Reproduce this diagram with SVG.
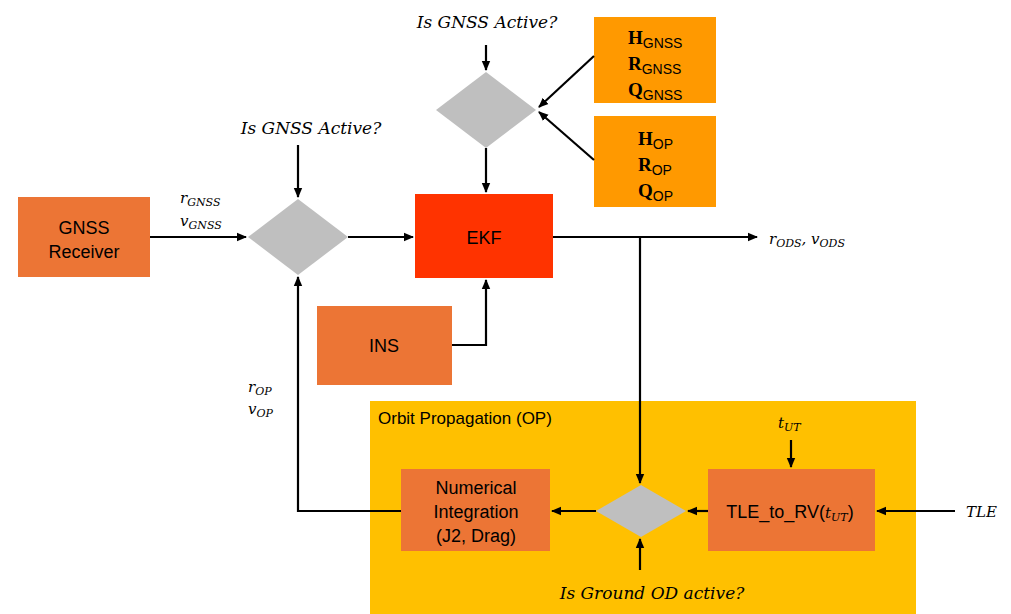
<svg xmlns="http://www.w3.org/2000/svg" width="1011" height="614" viewBox="0 0 1011 614">
<defs>
<marker id="ah" markerWidth="10" markerHeight="10" refX="9" refY="5" orient="auto" markerUnits="userSpaceOnUse">
<path d="M0,0.8 L10,5 L0,9.2 Z" fill="#000"/>
</marker>
<style>
.box{stroke:none}
.or{fill:#EC7535}
.lbl{font-family:"Liberation Sans",Arial,sans-serif;font-size:18px;fill:#000;text-anchor:middle}
.m{font-family:"DejaVu Serif","Liberation Serif",serif;font-style:italic;font-size:15px;fill:#000}
.sub{font-size:11px}
.q{font-family:"DejaVu Serif","Liberation Serif",serif;font-style:italic;font-size:17px;fill:#000;text-anchor:middle}
.hb{font-family:"Liberation Serif","Times New Roman",serif;font-weight:bold;font-size:19px;fill:#000}
.hs{font-family:"Liberation Sans",Arial,sans-serif;font-weight:normal;font-size:14px}
.c{fill:none;stroke:#000;stroke-width:2.2}
.dm{fill:#BFBFBF}
</style>
</defs>

<g id="op-region">
<rect x="370" y="401" width="546" height="213" fill="#FFC000"/>
<text x="378" y="424" font-family="Liberation Sans,Arial,sans-serif" font-size="17" fill="#000">Orbit Propagation (OP)</text>
</g>

<g id="gnss-receiver">
<rect class="or" x="18" y="197" width="132" height="80"/>
<text class="lbl" x="84" y="234">GNSS</text>
<text class="lbl" x="84" y="258">Receiver</text>
</g>

<g id="gate-gnss-1">
<polygon class="dm" points="248,237 298,199 348,237 298,275"/>
</g>

<g id="ekf">
<rect x="415" y="194" width="138" height="84" fill="#FF3300"/>
<text class="lbl" x="484" y="244">EKF</text>
</g>

<g id="gate-gnss-2">
<polygon class="dm" points="436,110 486,72 536,110 486,148"/>
</g>

<g id="gnss-matrices">
<rect x="594" y="17" width="122" height="86" fill="#FF9900"/>
<text class="hb" x="628" y="44">H<tspan class="hs" dy="4">GNSS</tspan></text>
<text class="hb" x="628" y="70">R<tspan class="hs" dy="4">GNSS</tspan></text>
<text class="hb" x="628" y="96">Q<tspan class="hs" dy="4">GNSS</tspan></text>
</g>

<g id="op-matrices">
<rect x="594" y="116" width="122" height="91" fill="#FF9900"/>
<text class="hb" x="638" y="145">H<tspan class="hs" dy="4">OP</tspan></text>
<text class="hb" x="638" y="171">R<tspan class="hs" dy="4">OP</tspan></text>
<text class="hb" x="638" y="197">Q<tspan class="hs" dy="4">OP</tspan></text>
</g>

<g id="ins">
<rect class="or" x="317" y="306" width="135" height="79"/>
<text class="lbl" x="384" y="352">INS</text>
</g>

<g id="numerical-integration">
<rect class="or" x="401" y="469" width="149" height="82"/>
<text class="lbl" x="476" y="494">Numerical</text>
<text class="lbl" x="476" y="518">Integration</text>
<text class="lbl" x="476" y="542">(J2, Drag)</text>
</g>

<g id="gate-ground-od">
<polygon class="dm" points="596,511 641,485 686,511 641,537"/>
</g>

<g id="tle-to-rv">
<rect class="or" x="708" y="469" width="167" height="82"/>
<text class="lbl" x="790" y="518">TLE_to_RV(<tspan class="m" font-size="17">t</tspan><tspan class="m sub" dy="3">UT</tspan><tspan dy="-3">)</tspan></text>
</g>

<g id="connectors">
<line class="c" x1="150" y1="237" x2="246" y2="237" marker-end="url(#ah)"/>
<line class="c" x1="298" y1="145" x2="298" y2="197" marker-end="url(#ah)"/>
<line class="c" x1="348" y1="237" x2="413" y2="237" marker-end="url(#ah)"/>
<line class="c" x1="486" y1="45" x2="486" y2="70" marker-end="url(#ah)"/>
<line class="c" x1="486" y1="148" x2="486" y2="192" marker-end="url(#ah)"/>
<line class="c" x1="594" y1="56" x2="539" y2="107" marker-end="url(#ah)"/>
<line class="c" x1="594" y1="160" x2="539" y2="112" marker-end="url(#ah)"/>
<polyline class="c" points="452,345 486,345 486,280" marker-end="url(#ah)"/>
<line class="c" x1="553" y1="237" x2="757" y2="237" marker-end="url(#ah)"/>
<line class="c" x1="640" y1="237" x2="640" y2="483" marker-end="url(#ah)"/>
<line class="c" x1="791" y1="440" x2="791" y2="467" marker-end="url(#ah)"/>
<line class="c" x1="955" y1="511" x2="877" y2="511" marker-end="url(#ah)"/>
<line class="c" x1="708" y1="511" x2="688" y2="511" marker-end="url(#ah)"/>
<line class="c" x1="596" y1="511" x2="552" y2="511" marker-end="url(#ah)"/>
<line class="c" x1="640" y1="570" x2="640" y2="539" marker-end="url(#ah)"/>
<polyline class="c" points="401,511 298,511 298,277" marker-end="url(#ah)"/>
</g>

<g id="labels">
<text class="q" x="487" y="28">Is GNSS Active?</text>
<text class="q" x="311" y="134">Is GNSS Active?</text>
<text class="q" x="652" y="599" font-size="18">Is Ground OD active?</text>
<text class="m" x="180" y="203" font-size="17">r<tspan class="sub" dy="3">GNSS</tspan></text>
<text class="m" x="180" y="226" font-size="17">v<tspan class="sub" dy="3">GNSS</tspan></text>
<text class="m" x="769" y="244" font-size="17">r<tspan class="sub" dy="3">ODS</tspan><tspan dy="-3">, v</tspan><tspan class="sub" dy="3">ODS</tspan></text>
<text class="m" x="248" y="392" font-size="17">r<tspan class="sub" dy="3">OP</tspan></text>
<text class="m" x="248" y="414" font-size="17">v<tspan class="sub" dy="3">OP</tspan></text>
<text class="m" x="778" y="428" font-size="17">t<tspan class="sub" dy="3">UT</tspan></text>
<text class="m" x="966" y="517" font-size="18">TLE</text>
</g>
</svg>
